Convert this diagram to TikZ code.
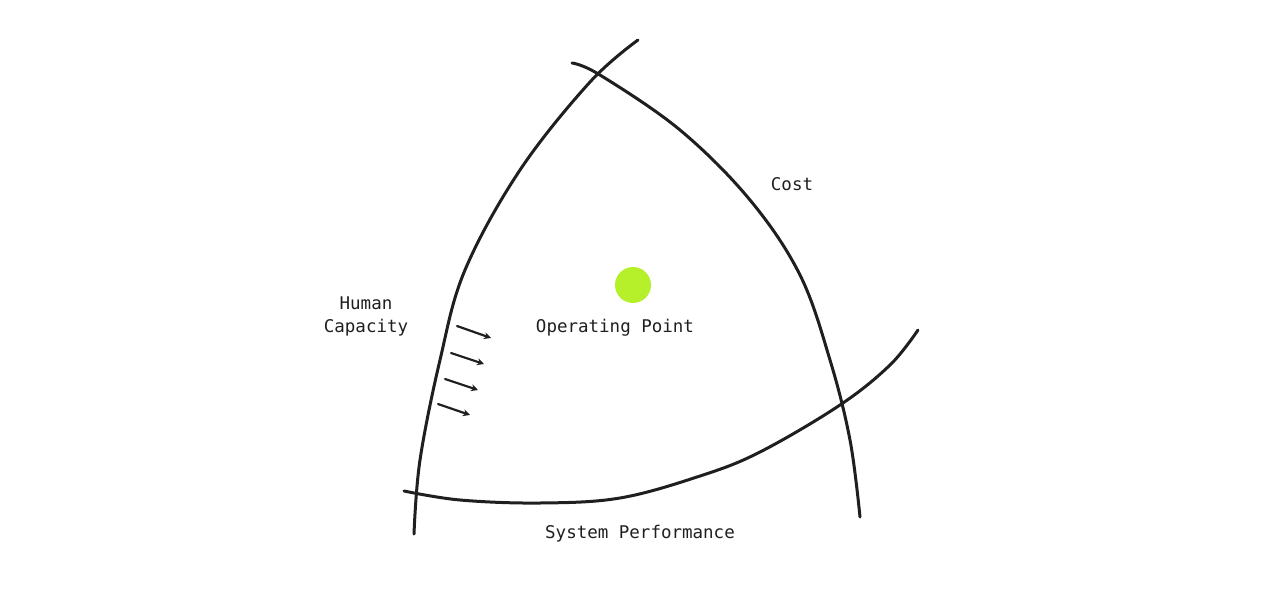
\documentclass[tikz,border=0pt]{standalone}
\usepackage{fontspec}
\setmonofont{DejaVu Sans Mono}
\usetikzlibrary{arrows.meta}
\begin{document}
\begin{tikzpicture}[x=1pt,y=-1pt,
  curve/.style={line width=3pt,color=black!88,line cap=round},
  arr/.style={line width=2.2pt,color=black!88,line cap=round,-{Stealth[length=7pt,width=7pt]}},
  lbl/.style={font=\ttfamily\fontsize{17.5}{25}\selectfont,text=black!88,inner sep=0pt}]
\useasboundingbox (0,0) rectangle (1280,600);
\draw[curve] plot[smooth,tension=0.6] coordinates {(414,534) (420,460) (440,360) (465,270) (520,170) (590,82) (638,40)};
\draw[curve] plot[smooth,tension=0.6] coordinates {(572,63) (600,75) (680,130) (750,200) (800,275) (830,360) (850,440) (860,517)};
\draw[curve] plot[smooth,tension=0.6] coordinates {(404,491) (460,500) (540,503) (620,498) (700,476) (760,452) (840,405) (890,365) (918,330)};
\coordinate (a1) at (457,326); \coordinate (b1) at (491,338);
\coordinate (a2) at (451,353); \coordinate (b2) at (484,364);
\coordinate (a3) at (445,379); \coordinate (b3) at (478,390);
\coordinate (a4) at (438,404); \coordinate (b4) at (470,415);
\foreach \i in {1,...,4} \draw[arr] (a\i) -- (b\i);
\node[circle,fill={rgb,255:red,181;green,240;blue,42},minimum size=36pt,inner sep=0pt] (dot) at (633,285) {};
\node[lbl] (cost) at (792,184) {Cost};
\node[lbl] (hum) at (366,303) {Human};
\node[lbl] (cap) at (366,328) {Capacity};
\node[lbl] (op) at (615,328) {Operating Point};
\node[lbl] (sp) at (640,534) {System Performance};
\end{tikzpicture}
\end{document}
